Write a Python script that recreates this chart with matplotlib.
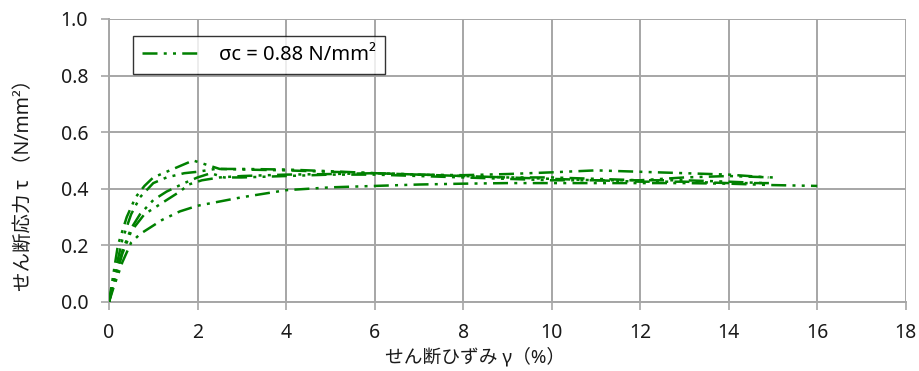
import matplotlib

matplotlib.use("Agg")
import matplotlib.pyplot as plt

GREEN = "#008000"
GRID = "#a6a6a6"
INK = "#1a1a1a"

plt.rcParams["font.family"] = ["Noto Sans", "Noto Sans CJK JP", "DejaVu Sans"]

# shear strain (%) / shear stress (N/mm2), one pair per specimen
strain_a = [0, 0.1, 0.2, 0.4, 0.6, 0.8, 1.0, 1.3, 1.6, 1.9, 2.1, 2.5, 3, 4, 5, 6, 7, 8, 9, 10, 11, 12, 13, 14, 14.8]
stress_a = [0, 0.10, 0.20, 0.30, 0.37, 0.41, 0.44, 0.46, 0.48, 0.50, 0.49, 0.47, 0.468, 0.465, 0.46, 0.455,
            0.45, 0.445, 0.44, 0.44, 0.435, 0.43, 0.43, 0.425, 0.42]

strain_b = [0, 0.1, 0.3, 0.5, 0.7, 1.0, 1.3, 1.7, 2.0, 2.4, 3, 4, 5, 6, 7, 8, 9, 10, 11, 12, 13, 14, 14.9]
stress_b = [0, 0.08, 0.22, 0.31, 0.37, 0.42, 0.44, 0.455, 0.46, 0.47, 0.47, 0.468, 0.462, 0.455, 0.45,
            0.448, 0.452, 0.458, 0.465, 0.46, 0.455, 0.45, 0.44]

strain_c = [0, 0.1, 0.3, 0.5, 0.7, 1.0, 1.3, 1.7, 2.0, 2.3, 2.6, 3, 4, 5, 6, 7, 8, 9, 10, 11, 12, 13, 14, 15.0]
stress_c = [0, 0.07, 0.18, 0.26, 0.31, 0.36, 0.39, 0.42, 0.44, 0.455, 0.44, 0.44, 0.445, 0.45, 0.45,
            0.445, 0.44, 0.435, 0.43, 0.43, 0.43, 0.44, 0.445, 0.44]

strain_d = [0, 0.1, 0.3, 0.5, 0.8, 1.0, 1.3, 1.6, 1.8, 2.1, 2.5, 3, 4, 5, 6, 7, 8, 9, 10, 11, 12, 13, 14, 15.0]
stress_d = [0, 0.06, 0.17, 0.25, 0.31, 0.33, 0.36, 0.39, 0.415, 0.43, 0.44, 0.445, 0.45, 0.452, 0.455,
            0.45, 0.445, 0.44, 0.435, 0.43, 0.425, 0.425, 0.42, 0.42]

strain_e = [0, 0.1, 0.3, 0.5, 0.7, 0.9, 1.2, 1.6, 2.0, 2.5, 3, 4, 5, 6, 7, 8, 9, 10, 11, 12, 13, 14, 15, 16]
stress_e = [0, 0.05, 0.14, 0.21, 0.24, 0.26, 0.29, 0.32, 0.34, 0.355, 0.37, 0.395, 0.405, 0.41, 0.415,
            0.418, 0.42, 0.42, 0.42, 0.42, 0.42, 0.418, 0.413, 0.41]

x_ticks = [0, 2, 4, 6, 8, 10, 12, 14, 16, 18]
y_ticks = [0.0, 0.2, 0.4, 0.6, 0.8, 1.0]

fig = plt.figure(figsize=(9.2, 3.71), dpi=100)
ax = fig.add_axes([0.1185, 0.186, 0.866, 0.763])

dash = (0, (6, 2.5, 1.2, 2.5, 1.2, 2.5))
curves = [(strain_a, stress_a), (strain_b, stress_b), (strain_c, stress_c),
          (strain_d, stress_d), (strain_e, stress_e)]
for i, (xs, ys) in enumerate(curves):
    ax.plot(xs, ys, color=GREEN, lw=1.8, ls=dash, zorder=3,
            label="σc = 0.88 N/mm²" if i == 0 else None)

ax.set_xlim(0, 18)
ax.set_ylim(0, 1.0)
ax.set_xticks(x_ticks)
ax.set_yticks(y_ticks)
ax.set_yticklabels([f"{v:.1f}" for v in y_ticks])
ax.grid(True, color=GRID, lw=1.4, zorder=0)
ax.set_axisbelow(True)
for side in ("top", "right"):
    ax.spines[side].set_visible(False)
for side in ("left", "bottom"):
    ax.spines[side].set_color(GRID)
    ax.spines[side].set_linewidth(1.4)
ax.tick_params(length=6, width=1.2, color=GRID, labelsize=14, labelcolor=INK, pad=9)

ax.set_xlabel("せん断ひずみ γ（%）", fontsize=13.5, color=INK)
ax.xaxis.set_label_coords(0.46, -0.16)
ax.set_ylabel("せん断応力 τ （N/mm²）", fontsize=14, color=INK)
ax.yaxis.set_label_coords(-0.095, 0.43)

leg = ax.legend(loc="upper left", bbox_to_anchor=(0.03, 0.94), fontsize=14.5,
                frameon=True, fancybox=False, handlelength=3.0, borderpad=0.45,
                borderaxespad=0)
leg.get_frame().set_edgecolor("black")
leg.get_frame().set_linewidth(1.0)

fig.savefig("out.png", dpi=100)
